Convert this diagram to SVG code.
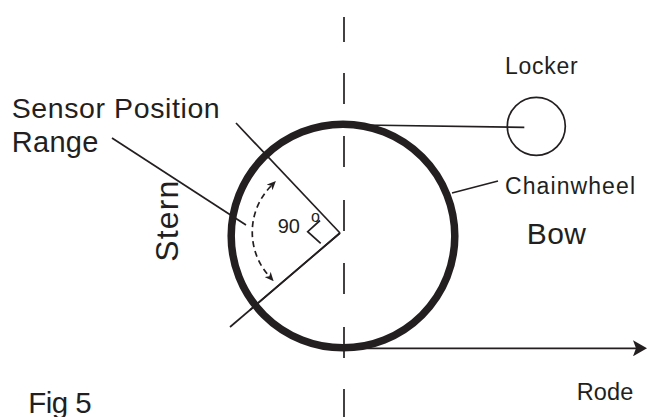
<svg xmlns="http://www.w3.org/2000/svg" width="647" height="417" viewBox="0 0 647 417">
<style>
.ln{stroke:#231f20;fill:none;stroke-width:1.7}
.tx{font-family:"Liberation Sans",Arial,sans-serif;fill:#231f20}
</style>
<defs>
<marker id="bigArrow" markerUnits="userSpaceOnUse" viewBox="0 0 14 16" markerWidth="14" markerHeight="16" refX="3" refY="8" orient="auto">
<path d="M0,0 L14,8 L0,16 L3,8 z" fill="#231f20"/>
</marker>
<marker id="smallArrow" markerUnits="userSpaceOnUse" viewBox="0 0 9 8" markerWidth="9" markerHeight="8" refX="2" refY="4" orient="auto-start-reverse">
<path d="M0,0 L9,4 L0,8 L2.5,4 z" fill="#231f20"/>
</marker>
</defs>
<rect width="647" height="417" fill="#ffffff"/>

<g id="centerline" class="ln" stroke-width="1.8">
<line x1="344" y1="17" x2="344" y2="42"/>
<line x1="344" y1="73" x2="344" y2="104"/>
<line x1="344" y1="136" x2="344" y2="167"/>
<line x1="344" y1="200" x2="344" y2="231"/>
<line x1="344" y1="263" x2="344" y2="294"/>
<line x1="344" y1="327" x2="344" y2="358"/>
<line x1="344" y1="389" x2="344" y2="417"/>
</g>

<g id="chainwheel">
<circle cx="343" cy="236" r="111.8" fill="none" stroke="#231f20" stroke-width="7.5"/>
</g>

<g id="locker">
<circle cx="536.3" cy="126.3" r="29" class="ln"/>
<text class="tx" x="505" y="74.3" font-size="23" textLength="72.7">Locker</text>
</g>

<g id="sensor-range">
<line class="ln" x1="236" y1="123" x2="340" y2="233"/>
<line class="ln" x1="340" y1="233" x2="230" y2="327"/>
<line class="ln" x1="340" y1="233" x2="250" y2="310" stroke-width="3"/>
<polyline class="ln" stroke-width="1.4" points="320,220.5 307.7,231.7 320.7,243.3"/>
<text class="tx" x="277.7" y="233.3" font-size="20">90</text>
<text class="tx" x="311" y="222" font-size="16">o</text>
</g>

<g id="labels">
<text class="tx" x="11.7" y="118.3" font-size="28.5" textLength="208">Sensor Position</text>
<text class="tx" x="11.7" y="151.7" font-size="29" textLength="86.7">Range</text>
<text class="tx" transform="translate(178.3,261.7) rotate(-90)" x="0" y="0" font-size="32" textLength="81">Stern</text>
<text class="tx" x="505" y="194" font-size="23" textLength="130">Chainwheel</text>
<text class="tx" x="526.7" y="244" font-size="30" textLength="59.3">Bow</text>
<text class="tx" x="576.7" y="400" font-size="23.5" textLength="56.7">Rode</text>
<text class="tx" x="28.3" y="413" font-size="29.5" textLength="63.3">Fig 5</text>
</g>

<g id="connectors">
<line class="ln" x1="112" y1="138" x2="246" y2="225"/>
<line class="ln" x1="452" y1="193" x2="498" y2="181"/>
<line class="ln" x1="362" y1="125" x2="524.3" y2="127.3"/>
<line class="ln" stroke-width="2" x1="362" y1="348.3" x2="636" y2="348.3" marker-end="url(#bigArrow)"/>
<path class="ln" stroke-width="1.5" stroke-dasharray="6 4" d="M 271 186 A 66 66 0 0 0 269 276" marker-start="url(#smallArrow)" marker-end="url(#smallArrow)"/>
</g>
</svg>
